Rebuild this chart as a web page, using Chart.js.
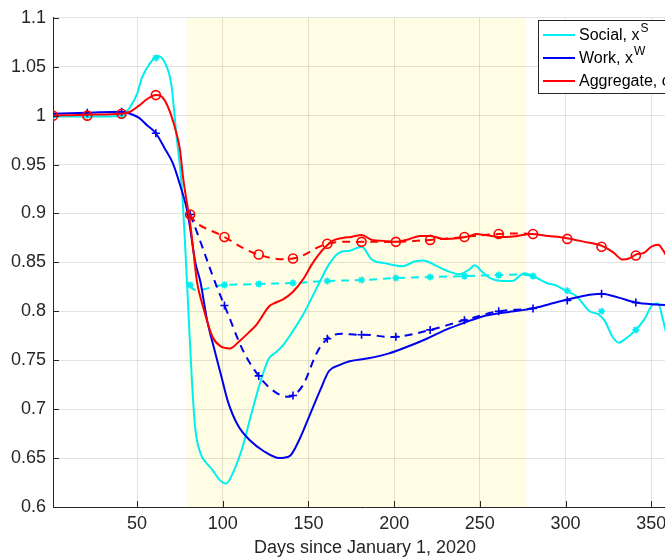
<!DOCTYPE html>
<html>
<head>
<meta charset="utf-8">
<title>Social, work and aggregate activity</title>
<script src="https://cdn.jsdelivr.net/npm/chart.js@4.4.1/dist/chart.umd.min.js"></script>
<style>
  html, body { margin: 0; padding: 0; background: #fff; overflow: hidden; }
</style>
</head>
<body>
<canvas id="chart" width="690" height="559"></canvas>
<script>
const socialDays = [1, 21, 41, 46, 50, 53, 57, 62, 66, 70, 73, 76, 78, 79, 80, 82, 84, 87, 90, 94, 98, 102, 106, 111, 117, 122, 127, 131, 135, 141, 147, 152, 156, 162, 168, 174, 181, 187, 195, 205, 212, 217, 224, 230, 238, 244, 247, 251, 256, 263, 269, 276, 281, 289, 295, 300, 306, 310, 314, 319, 323, 327, 331, 335, 341, 346, 351, 354, 357, 360, 365];
const socialVals = [0.999, 0.999, 1.0, 1.009, 1.022, 1.039, 1.052, 1.061, 1.055, 1.032, 0.98, 0.93, 0.87, 0.835, 0.8, 0.73, 0.68, 0.655, 0.646, 0.638, 0.628, 0.624, 0.635, 0.658, 0.697, 0.728, 0.752, 0.758, 0.765, 0.78, 0.797, 0.814, 0.828, 0.848, 0.86, 0.862, 0.866, 0.853, 0.849, 0.846, 0.851, 0.852, 0.847, 0.842, 0.838, 0.843, 0.847, 0.841, 0.834, 0.831, 0.831, 0.839, 0.836, 0.829, 0.826, 0.821, 0.816, 0.808, 0.8, 0.797, 0.79, 0.775, 0.768, 0.772, 0.781, 0.792, 0.807, 0.808, 0.79, 0.77, 0.76];

const workDays = [1, 21, 41, 46, 51, 56, 61, 66, 71, 76, 79, 81, 84, 87, 91, 95, 99, 103, 109, 116, 124, 133, 139, 145, 151, 157, 162, 168, 174, 185, 197, 208, 219, 230, 242, 252, 261, 270, 281, 290, 301, 311, 321, 331, 341, 353, 365];
const workVals = [1.002, 1.003, 1.004, 1.002, 0.998, 0.99, 0.982, 0.967, 0.951, 0.924, 0.905, 0.885, 0.85, 0.83, 0.79, 0.762, 0.735, 0.708, 0.683, 0.668, 0.657, 0.65, 0.652, 0.67, 0.695, 0.72, 0.739, 0.745, 0.749, 0.752, 0.757, 0.764, 0.772, 0.781, 0.789, 0.795, 0.798, 0.8, 0.803, 0.807, 0.812, 0.816, 0.818, 0.814, 0.809, 0.807, 0.806];

const aggDays = [1, 21, 41, 46, 51, 56, 61, 64, 67, 70, 73, 75, 77, 79, 81, 83, 85, 88, 94, 99, 104, 110, 115, 120, 127, 131, 135, 141, 147, 152, 156, 160, 164, 170, 175, 181, 187, 194, 201, 209, 215, 221, 229, 238, 244, 248, 253, 261, 265, 272, 280, 290, 300, 311, 321, 328, 333, 337, 341, 346, 350, 354, 357, 361, 365];
const aggVals = [1.0, 1.001, 1.002, 1.004, 1.01, 1.017, 1.021, 1.02, 1.013, 1.0, 0.982, 0.966, 0.935, 0.912, 0.89, 0.86, 0.83, 0.808, 0.774, 0.764, 0.762, 0.77, 0.778, 0.787, 0.805, 0.809, 0.812, 0.82, 0.833, 0.848, 0.858, 0.866, 0.872, 0.875, 0.876, 0.878, 0.873, 0.872, 0.871, 0.874, 0.877, 0.877, 0.874, 0.875, 0.877, 0.879, 0.878, 0.876, 0.876, 0.877, 0.879, 0.877, 0.875, 0.871, 0.867, 0.86, 0.853, 0.854, 0.858, 0.86, 0.866, 0.868, 0.862, 0.85, 0.845];

// model points, every 20 days
const modelDays = [1, 21, 41, 61, 81, 101, 121, 141, 161, 181, 201, 221, 241, 261, 281, 301, 321, 341, 361];
const socialModel = [1.0, 1.0, 1.0, 1.059, 0.827, 0.827, 0.828, 0.829, 0.831, 0.832, 0.834, 0.835, 0.836, 0.837, 0.836, 0.821, 0.8, 0.781, 0.77];
const workModel = [1.002, 1.003, 1.004, 0.982, 0.899, 0.806, 0.734, 0.714, 0.772, 0.776, 0.774, 0.781, 0.791, 0.8, 0.803, 0.811, 0.818, 0.809, 0.806];
const aggModel = [1.0, 1.0, 1.002, 1.021, 0.899, 0.876, 0.858, 0.854, 0.869, 0.871, 0.871, 0.873, 0.876, 0.879, 0.879, 0.874, 0.866, 0.857, 0.85];

const dashFrom = 81, dashTo = 281;     // model drawn dashed only here
const shadeFrom = 79, shadeTo = 277;   // yellow band
const xTicks = [50, 100, 150, 200, 250, 300, 350];
const yTicks = [0.6, 0.65, 0.7, 0.75, 0.8, 0.85, 0.9, 0.95, 1.0, 1.05, 1.1];
const legendItems = [
  { label: 'Social, x', sup: 'S', color: 'rgb(0,238,238)' },
  { label: 'Work, x', sup: 'W', color: 'rgb(0,0,240)' },
  { label: 'Aggregate, c', sup: '', color: 'rgb(255,0,0)' }
];

const CYAN = legendItems[0].color, BLUE = legendItems[1].color, RED = legendItems[2].color;
const AXIS = '#262626';

function pts(days, vals) {
  return days.map((d, i) => ({ x: d, y: vals[i] }));
}

function solid(days, vals, color, order) {
  return {
    data: pts(days, vals),
    borderColor: color,
    borderWidth: 2,
    pointRadius: 0,
    cubicInterpolationMode: 'monotone',
    order: order
  };
}

function model(vals, color, style, r, order) {
  return {
    data: pts(modelDays, vals),
    borderColor: color,
    borderWidth: 2,
    borderDash: [8, 6],
    tension: 0.4,
    pointStyle: style,
    pointRadius: r,
    pointBorderWidth: 1.6,
    pointBorderColor: color,
    pointBackgroundColor: 'rgba(0,0,0,0)',
    segment: {
      borderColor: c => (c.p0.parsed.x >= dashFrom && c.p1.parsed.x <= dashTo) ? color : 'rgba(0,0,0,0)'
    },
    order: order
  };
}

const shadePlugin = {
  id: 'shade',
  beforeDraw(chart) {
    const { ctx, chartArea: a, scales: { x } } = chart;
    const x0 = x.getPixelForValue(shadeFrom), x1 = x.getPixelForValue(shadeTo);
    ctx.save();
    ctx.fillStyle = 'rgb(255,253,227)';
    ctx.fillRect(x0, a.top, x1 - x0, a.bottom - a.top);
    ctx.restore();
  }
};

// inward ticks like the original, plus the legend box
const extrasPlugin = {
  id: 'extras',
  afterDraw(chart) {
    const { ctx, chartArea: a, scales: { x, y } } = chart;
    ctx.save();
    ctx.strokeStyle = AXIS;
    ctx.lineWidth = 1;
    ctx.beginPath();
    xTicks.forEach(v => {
      const px = Math.round(x.getPixelForValue(v)) + 0.5;
      ctx.moveTo(px, a.bottom); ctx.lineTo(px, a.bottom - 6);
    });
    yTicks.forEach(v => {
      const py = Math.round(y.getPixelForValue(v)) + 0.5;
      ctx.moveTo(a.left, py); ctx.lineTo(a.left + 6, py);
    });
    ctx.stroke();

    // legend
    const bx = 538.5, by = 20.5, bw = 200, bh = 73;
    ctx.fillStyle = '#fff';
    ctx.fillRect(bx, by, bw, bh);
    ctx.strokeStyle = AXIS;
    ctx.strokeRect(bx, by, bw, bh);
    legendItems.forEach((it, i) => {
      const ly = 35 + i * 23;
      ctx.strokeStyle = it.color;
      ctx.lineWidth = 2;
      ctx.beginPath();
      ctx.moveTo(543, ly); ctx.lineTo(575, ly);
      ctx.stroke();
      ctx.fillStyle = '#000';
      ctx.textBaseline = 'middle';
      ctx.font = "16px 'Liberation Sans', Arial, sans-serif";
      ctx.fillText(it.label, 579, ly + 1);
      if (it.sup) {
        const w = ctx.measureText(it.label).width;
        ctx.font = "12px 'Liberation Sans', Arial, sans-serif";
        ctx.fillText(it.sup, 579 + w + 1, ly - 6);
      }
    });
    ctx.restore();
  }
};

Chart.defaults.font.family = "'Liberation Sans', Arial, sans-serif";
Chart.defaults.color = AXIS;

new Chart(document.getElementById('chart'), {
  type: 'line',
  data: {
    datasets: [
      solid(socialDays, socialVals, CYAN, 5),
      model(socialModel, CYAN, 'star', 3.5, 4),
      solid(workDays, workVals, BLUE, 3),
      model(workModel, BLUE, 'cross', 4, 2),
      solid(aggDays, aggVals, RED, 1),
      model(aggModel, RED, 'circle', 4.5, 0)
    ]
  },
  options: {
    responsive: false,
    animation: false,
    layout: { padding: { top: 13, right: 13, left: 0, bottom: 0 } },
    plugins: { legend: { display: false }, tooltip: { enabled: false } },
    scales: {
      x: {
        type: 'linear',
        min: 1,
        max: 365,
        afterBuildTicks: s => { s.ticks = xTicks.map(v => ({ value: v })); },
        afterFit: s => { s.height = 52; },
        grid: { color: 'rgba(38,38,38,0.13)', drawTicks: false },
        border: { color: AXIS, width: 1 },
        ticks: { font: { size: 18 }, color: AXIS, padding: 6, maxRotation: 0 },
        title: { display: true, text: 'Days since January 1, 2020', font: { size: 18 }, color: AXIS, padding: { top: 2, bottom: 0 } }
      },
      y: {
        min: 0.6,
        max: 1.1,
        afterBuildTicks: s => { s.ticks = yTicks.map(v => ({ value: v })); },
        afterFit: s => { s.width = 53; },
        grid: { color: 'rgba(38,38,38,0.13)', drawTicks: false },
        border: { color: AXIS, width: 1 },
        ticks: { font: { size: 18 }, color: AXIS, padding: 7, callback: v => String(+v.toFixed(2)) }
      }
    }
  },
  plugins: [shadePlugin, extrasPlugin]
});
</script>
</body>
</html>
